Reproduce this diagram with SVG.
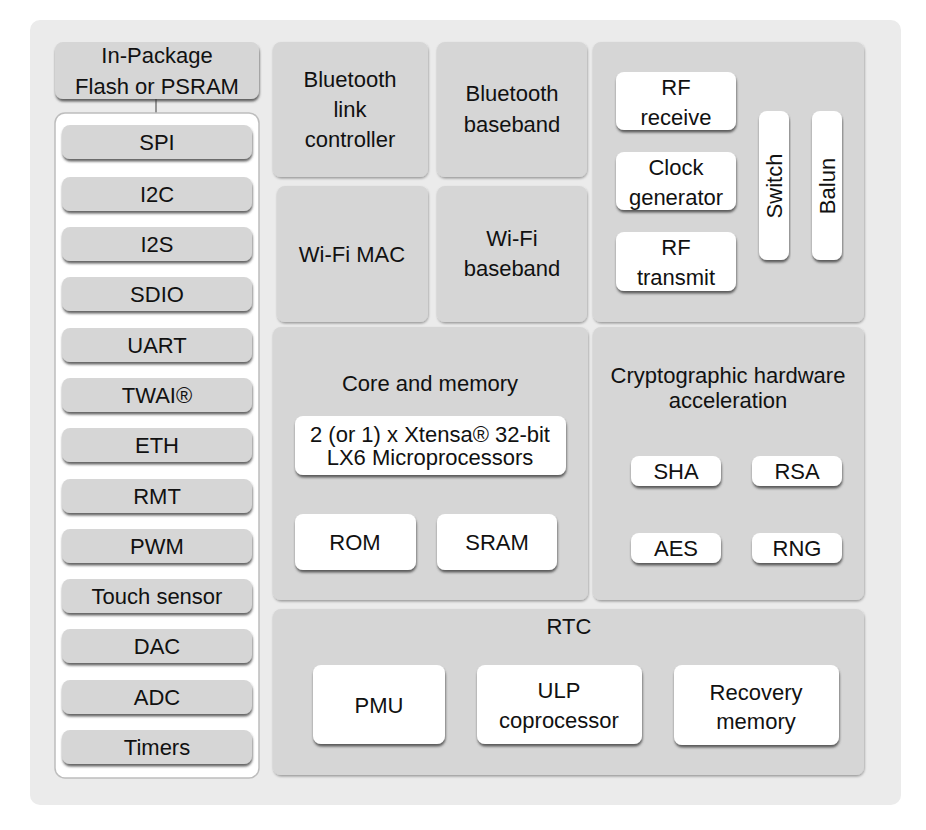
<svg xmlns="http://www.w3.org/2000/svg" width="926" height="830" viewBox="0 0 926 830">
<defs>
<filter id="shA" x="-5%" y="-5%" width="110%" height="115%"><feDropShadow dx="0.5" dy="1.5" stdDeviation="0.8" flood-color="#000" flood-opacity="0.35"/></filter>
<filter id="shB" x="-5%" y="-10%" width="110%" height="130%"><feDropShadow dx="0.5" dy="2.5" stdDeviation="0.9" flood-color="#333" flood-opacity="0.75"/></filter>
</defs>
<style>
text{font-family:"Liberation Sans",Arial,sans-serif;font-size:22px;fill:#111;text-anchor:middle}
.blk{fill:#d6d6d6;filter:url(#shA)}
.itm{fill:#d6d6d6;filter:url(#shB)}
.wht{fill:#fff;filter:url(#shB)}
.ppl{fill:#d6d6d6;filter:url(#shB)}
</style>
<rect x="0" y="0" width="926" height="830" fill="#fff"/>
<rect x="30" y="20" width="871" height="785" rx="10" fill="#ebebeb"/>

<g id="connectors">
<line x1="156" y1="99" x2="156" y2="125" stroke="#777" stroke-width="1.5"/>
</g>

<g id="inpackage">
<rect class="ppl" x="55" y="42" width="204" height="57" rx="8"/>
<text x="157" y="63">In-Package</text>
<text x="157" y="94">Flash or PSRAM</text>
</g>

<g id="peripherals">
<rect x="55" y="113" width="204" height="665" rx="10" fill="#fff" stroke="#bdbdbd" stroke-width="1.5"/>
<g id="spi"><rect class="itm" x="62" y="125" width="190" height="34" rx="8"/><text x="157" y="150">SPI</text></g>
<g id="i2c"><rect class="itm" x="62" y="177" width="190" height="34" rx="8"/><text x="157" y="202">I2C</text></g>
<g id="i2s"><rect class="itm" x="62" y="227" width="190" height="34" rx="8"/><text x="157" y="252">I2S</text></g>
<g id="sdio"><rect class="itm" x="62" y="277" width="190" height="34" rx="8"/><text x="157" y="302">SDIO</text></g>
<g id="uart"><rect class="itm" x="62" y="328" width="190" height="34" rx="8"/><text x="157" y="353">UART</text></g>
<g id="twai"><rect class="itm" x="62" y="378" width="190" height="34" rx="8"/><text x="157" y="403">TWAI®</text></g>
<g id="eth"><rect class="itm" x="62" y="428" width="190" height="34" rx="8"/><text x="157" y="453">ETH</text></g>
<g id="rmt"><rect class="itm" x="62" y="479" width="190" height="34" rx="8"/><text x="157" y="504">RMT</text></g>
<g id="pwm"><rect class="itm" x="62" y="529" width="190" height="34" rx="8"/><text x="157" y="554">PWM</text></g>
<g id="touch"><rect class="itm" x="62" y="579" width="190" height="34" rx="8"/><text x="157" y="604">Touch sensor</text></g>
<g id="dac"><rect class="itm" x="62" y="629" width="190" height="34" rx="8"/><text x="157" y="654">DAC</text></g>
<g id="adc"><rect class="itm" x="62" y="680" width="190" height="34" rx="8"/><text x="157" y="705">ADC</text></g>
<g id="timers"><rect class="itm" x="62" y="730" width="190" height="34" rx="8"/><text x="157" y="755">Timers</text></g>
</g>

<g id="bt-link">
<rect class="blk" x="273" y="42" width="155" height="135" rx="8"/>
<text x="350" y="87">Bluetooth</text>
<text x="350" y="117">link</text>
<text x="350" y="147">controller</text>
</g>
<g id="bt-baseband">
<rect class="blk" x="437" y="42" width="150" height="135" rx="8"/>
<text x="512" y="101">Bluetooth</text>
<text x="512" y="132">baseband</text>
</g>
<g id="wifi-mac">
<rect class="blk" x="277" y="186" width="151" height="136" rx="8"/>
<text x="352" y="262">Wi-Fi MAC</text>
</g>
<g id="wifi-baseband">
<rect class="blk" x="437" y="186" width="150" height="136" rx="8"/>
<text x="512" y="246">Wi-Fi</text>
<text x="512" y="276">baseband</text>
</g>

<g id="rf">
<rect class="blk" x="593" y="42" width="271" height="280" rx="8"/>
<g id="rf-receive"><rect class="wht" x="616" y="72" width="120" height="58" rx="8"/><text x="676" y="95">RF</text><text x="676" y="125">receive</text></g>
<g id="clock-gen"><rect class="wht" x="616" y="152" width="120" height="58" rx="8"/><text x="676" y="175">Clock</text><text x="676" y="205">generator</text></g>
<g id="rf-transmit"><rect class="wht" x="616" y="232" width="120" height="59" rx="8"/><text x="676" y="255">RF</text><text x="676" y="285">transmit</text></g>
<g id="switch"><rect class="wht" x="759" y="111" width="30" height="149" rx="8"/><text transform="translate(782 186) rotate(-90)">Switch</text></g>
<g id="balun"><rect class="wht" x="812" y="111" width="30" height="149" rx="8"/><text transform="translate(835 186) rotate(-90)">Balun</text></g>
</g>

<g id="core">
<rect class="blk" x="273" y="327" width="315" height="273" rx="8"/>
<text x="430" y="391">Core and memory</text>
<g id="xtensa"><rect class="wht" x="295" y="416" width="271" height="59" rx="8"/><text x="430" y="442">2 (or 1) x Xtensa® 32-bit</text><text x="430" y="465">LX6 Microprocessors</text></g>
<g id="rom"><rect class="wht" x="295" y="514" width="121" height="56" rx="8"/><text x="355" y="550">ROM</text></g>
<g id="sram"><rect class="wht" x="437" y="514" width="120" height="56" rx="8"/><text x="497" y="550">SRAM</text></g>
</g>

<g id="crypto">
<rect class="blk" x="593" y="327" width="271" height="273" rx="8"/>
<text x="728" y="383">Cryptographic hardware</text>
<text x="728" y="408">acceleration</text>
<g id="sha"><rect class="wht" x="631" y="456" width="90" height="30" rx="8"/><text x="676" y="479">SHA</text></g>
<g id="rsa"><rect class="wht" x="752" y="456" width="90" height="30" rx="8"/><text x="797" y="479">RSA</text></g>
<g id="aes"><rect class="wht" x="631" y="533" width="90" height="30" rx="8"/><text x="676" y="556">AES</text></g>
<g id="rng"><rect class="wht" x="752" y="533" width="90" height="30" rx="8"/><text x="797" y="556">RNG</text></g>
</g>

<g id="rtc">
<rect class="blk" x="273" y="609" width="591" height="166" rx="8"/>
<text x="569" y="634">RTC</text>
<g id="pmu"><rect class="wht" x="313" y="665" width="132" height="79" rx="8"/><text x="379" y="713">PMU</text></g>
<g id="ulp"><rect class="wht" x="477" y="665" width="165" height="79" rx="8"/><text x="559" y="698">ULP</text><text x="559" y="728">coprocessor</text></g>
<g id="recovery"><rect class="wht" x="674" y="665" width="165" height="80" rx="8"/><text x="756" y="700">Recovery</text><text x="756" y="729">memory</text></g>
</g>
</svg>
